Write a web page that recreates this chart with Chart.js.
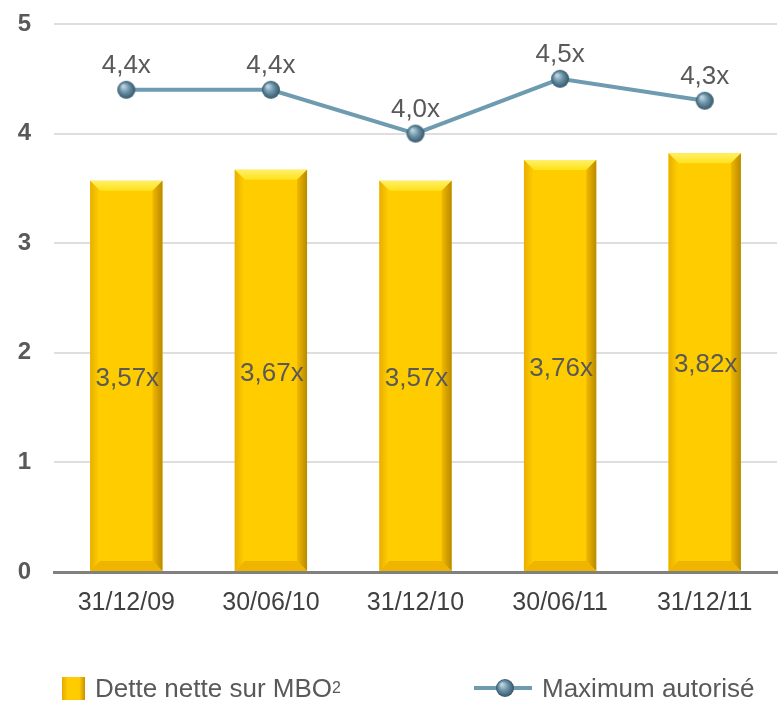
<!DOCTYPE html>
<html>
<head>
<meta charset="utf-8">
<script src="https://cdn.jsdelivr.net/npm/chart.js@4.4.1/dist/chart.umd.min.js"></script>
<style>
  html, body { margin: 0; padding: 0; background: #fff; overflow: hidden; }
  #wrap { position: relative; width: 790px; height: 701px; }
  #legend { position: absolute; top: 675px; left: 0; width: 779px; height: 26px;
            font-family: "Liberation Sans", Arial, sans-serif; font-size: 26px; color: #595959; }
  .item { position: absolute; top: 0; display: flex; align-items: center; height: 26px; white-space: nowrap; }
  .swatch { width: 23px; height: 23px; margin-right: 10px;
            background: linear-gradient(to right, #e8a800 0%, #ffcc00 25%, #ffcc00 75%, #c89000 100%); }
  sup { font-size: 16px; vertical-align: 11px; line-height: 0; }
</style>
</head>
<body>
<div id="wrap">
  <canvas id="chart" width="790" height="701"></canvas>
  <div id="legend">
    <div class="item" style="left:62px"><div class="swatch"></div>Dette nette sur MBO<sup>2</sup></div>
    <div class="item" style="left:474px"><canvas id="lineIcon" width="58" height="22" style="margin-right:10px"></canvas>Maximum autorisé</div>
  </div>
</div>
<script>
const categories = ['31/12/09', '30/06/10', '31/12/10', '30/06/11', '31/12/11'];
const detteNette = [3.57, 3.67, 3.57, 3.76, 3.82];
const maximumAutorise = [4.4, 4.4, 4.0, 4.5, 4.3];
const yTicks = [0, 1, 2, 3, 4, 5];

const lineColor = '#6e9bb0';

function makeBall(r) {
    const c = document.createElement('canvas');
    c.width = r * 2 + 2;
    c.height = r * 2 + 2;
    const ctx = c.getContext('2d');
    const cx = r + 1, cy = r + 1;
    const g = ctx.createRadialGradient(cx - r * 0.35, cy - r * 0.4, 1, cx, cy, r);
    g.addColorStop(0, '#b9d3df');
    g.addColorStop(0.45, '#6f95aa');
    g.addColorStop(1, '#34566a');
    ctx.fillStyle = g;
    ctx.beginPath();
    ctx.arc(cx, cy, r, 0, Math.PI * 2);
    ctx.fill();
    return c;
}
const ball = makeBall(9);

// legend line icon
(function () {
    const ctx = document.getElementById('lineIcon').getContext('2d');
    ctx.strokeStyle = lineColor;
    ctx.lineWidth = 4;
    ctx.beginPath();
    ctx.moveTo(0, 11);
    ctx.lineTo(58, 11);
    ctx.stroke();
    ctx.drawImage(ball, 31 - ball.width / 2, 11 - ball.height / 2);
})();

const fmt = (v, d) => v.toFixed(d).replace('.', ',') + 'x';

const bevelPlugin = {
    id: 'bevel',
    afterDatasetDraw(chart, args) {
        if (args.index !== 0) return;
        const ctx = chart.ctx;
        const b = 10;
        args.meta.data.forEach(bar => {
            const x0 = bar.x - bar.width / 2, x1 = bar.x + bar.width / 2;
            const top = bar.y, bottom = bar.base;
            ctx.save();
            // top bevel
            let g = ctx.createLinearGradient(0, top, 0, top + b);
            g.addColorStop(0, '#fff06a');
            g.addColorStop(1, '#ffe21a');
            ctx.fillStyle = g;
            ctx.beginPath();
            ctx.moveTo(x0, top); ctx.lineTo(x1, top); ctx.lineTo(x1 - b, top + b); ctx.lineTo(x0 + b, top + b);
            ctx.closePath(); ctx.fill();
            // right bevel
            g = ctx.createLinearGradient(x1 - b, 0, x1, 0);
            g.addColorStop(0, '#f2b800');
            g.addColorStop(1, '#b88a00');
            ctx.fillStyle = g;
            ctx.beginPath();
            ctx.moveTo(x1, top); ctx.lineTo(x1, bottom); ctx.lineTo(x1 - b, bottom - b); ctx.lineTo(x1 - b, top + b);
            ctx.closePath(); ctx.fill();
            // left bevel
            g = ctx.createLinearGradient(x0, 0, x0 + b, 0);
            g.addColorStop(0, '#e9ae00');
            g.addColorStop(1, '#ffd000');
            ctx.fillStyle = g;
            ctx.beginPath();
            ctx.moveTo(x0, top); ctx.lineTo(x0 + b, top + b); ctx.lineTo(x0 + b, bottom - b); ctx.lineTo(x0, bottom);
            ctx.closePath(); ctx.fill();
            // bottom bevel
            ctx.fillStyle = '#eeb400';
            ctx.beginPath();
            ctx.moveTo(x0, bottom); ctx.lineTo(x0 + b, bottom - b); ctx.lineTo(x1 - b, bottom - b); ctx.lineTo(x1, bottom);
            ctx.closePath(); ctx.fill();
            ctx.restore();
        });
    }
};

const labelPlugin = {
    id: 'valueLabels',
    afterDatasetsDraw(chart) {
        const ctx = chart.ctx;
        ctx.save();
        ctx.font = '26px "Liberation Sans", Arial, sans-serif';
        ctx.fillStyle = '#595959';
        ctx.textAlign = 'center';
        ctx.textBaseline = 'middle';
        chart.getDatasetMeta(0).data.forEach((bar, i) => {
            ctx.fillText(fmt(detteNette[i], 2), bar.x + 1, (bar.y + bar.base) / 2 + 3);
        });
        chart.getDatasetMeta(1).data.forEach((pt, i) => {
            ctx.fillText(fmt(maximumAutorise[i], 1), pt.x, pt.y - 24);
        });
        ctx.restore();
    }
};

new Chart(document.getElementById('chart'), {
    data: {
        labels: categories,
        datasets: [{
            type: 'bar',
            label: 'Dette nette sur MBO²',
            data: detteNette,
            backgroundColor: '#ffcc00',
            categoryPercentage: 0.5,
            barPercentage: 1,
            order: 2
        }, {
            type: 'line',
            label: 'Maximum autorisé',
            data: maximumAutorise,
            borderColor: lineColor,
            borderWidth: 4,
            pointStyle: ball,
            pointRadius: 9,
            tension: 0,
            order: 1
        }]
    },
    options: {
        responsive: false,
        animation: false,
        devicePixelRatio: 1,
        layout: { padding: { top: 24, right: 1, bottom: 67, left: 0 } },
        plugins: { legend: { display: false }, tooltip: { enabled: false } },
        scales: {
            x: {
                grid: { display: false, drawTicks: false },
                border: { color: '#808080', width: 3 },
                ticks: {
                    padding: 16,
                    color: '#404040',
                    font: { family: '"Liberation Sans", Arial, sans-serif', size: 25 }
                }
            },
            y: {
                min: 0,
                max: 5,
                afterFit(scale) {
                    scale.width = 54;
                    scale.paddingTop = 0;
                    scale.paddingBottom = 0;
                },
                afterBuildTicks(scale) { scale.ticks = yTicks.map(v => ({ value: v })); },
                grid: { color: '#dedede', lineWidth: 2, drawTicks: false },
                border: { display: false },
                ticks: {
                    padding: 23,
                    color: '#595959',
                    font: { family: '"Liberation Sans", Arial, sans-serif', size: 24, weight: 'bold' }
                }
            }
        }
    },
    plugins: [bevelPlugin, labelPlugin]
});
</script>
</body>
</html>
